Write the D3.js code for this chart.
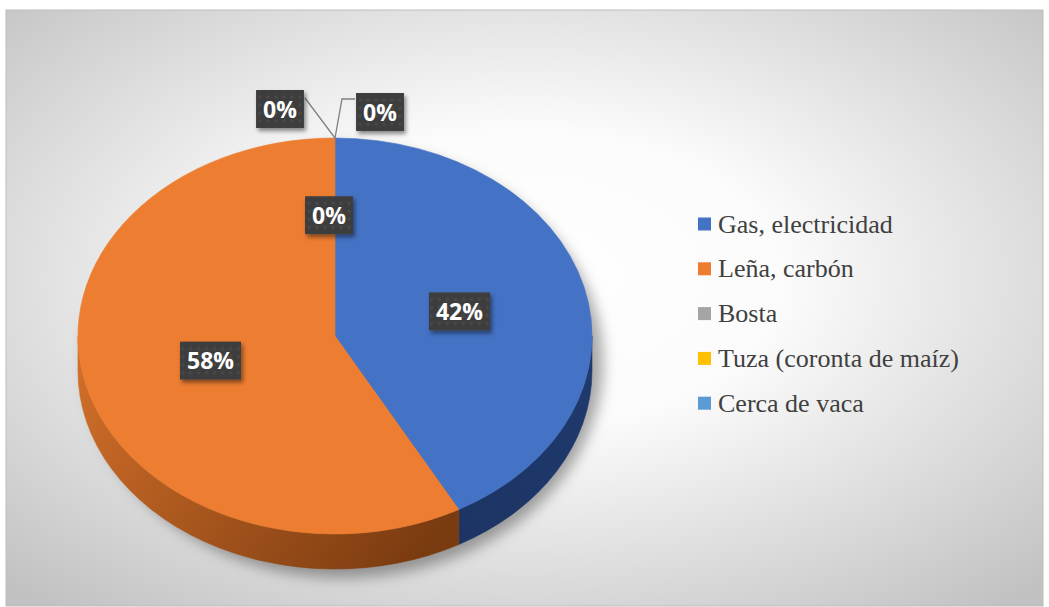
<!DOCTYPE html>
<html>
<head>
<meta charset="utf-8">
<script src="https://cdn.jsdelivr.net/npm/d3@7/dist/d3.min.js"></script>
<style>
  html, body { margin: 0; padding: 0; background: #fff; }
  svg { display: block; }
</style>
</head>
<body>
<svg id="chart" width="1049" height="607"></svg>
<script>
// Household cooking fuel shares (%)
const categories = ["Gas, electricidad", "Leña, carbón", "Bosta", "Tuza (coronta de maíz)", "Cerca de vaca"];
const values = [42, 58, 0, 0, 0];
const colors = ["#4472C4", "#ED7D31", "#A5A5A5", "#FFC000", "#5B9BD5"];
const sideColors = [["#1f3a6e", "#1b325f"], ["#d4702a", "#7a3b10"], ["#7c7c7c", "#555"], ["#c09000", "#806000"], ["#44749f", "#2d4d6a"]];

const svg = d3.select("#chart");
const frame = { x: 6, y: 10, w: 1037, h: 596 };

// pie geometry (tilted ellipse)
const cx = 335, cy = 336, rx = 257, ry = 198, depth = 35;

const defs = svg.append("defs");

const bg = defs.append("radialGradient").attr("id", "bg")
  .attr("cx", "0.5").attr("cy", "0.45").attr("r", "0.72");
bg.append("stop").attr("offset", "0").attr("stop-color", "#ffffff");
bg.append("stop").attr("offset", "0.35").attr("stop-color", "#fbfbfb");
bg.append("stop").attr("offset", "1").attr("stop-color", "#c1c1c1");

const shadowBlur = defs.append("filter").attr("id", "pieShadow")
  .attr("x", "-20%").attr("y", "-20%").attr("width", "140%").attr("height", "140%");
shadowBlur.append("feGaussianBlur").attr("stdDeviation", 7);

const boxShadow = defs.append("filter").attr("id", "boxShadow")
  .attr("x", "-30%").attr("y", "-30%").attr("width", "160%").attr("height", "170%");
boxShadow.append("feDropShadow").attr("dx", 2).attr("dy", 3)
  .attr("stdDeviation", 2.2).attr("flood-color", "#000").attr("flood-opacity", 0.45);

const dots = defs.append("pattern").attr("id", "dots")
  .attr("patternUnits", "userSpaceOnUse").attr("width", 8).attr("height", 8);
dots.append("rect").attr("width", 8).attr("height", 8).attr("fill", "#3e3e3e");
dots.append("circle").attr("cx", 4).attr("cy", 4).attr("r", 1.6).attr("fill", "#4a4a4a");

sideColors.forEach((c, i) => {
  const g = defs.append("linearGradient").attr("id", "side" + i)
    .attr("gradientUnits", "userSpaceOnUse")
    .attr("x1", cx - rx).attr("y1", cy).attr("x2", cx + rx * 0.3).attr("y2", cy + ry + depth);
  g.append("stop").attr("offset", "0").attr("stop-color", c[0]);
  g.append("stop").attr("offset", "1").attr("stop-color", c[1]);
});
// the blue wall faces the other way, so its gradient runs right to left
defs.select("#side0").attr("x1", cx + rx).attr("x2", cx);

// chart area
svg.append("rect").attr("x", frame.x).attr("y", frame.y)
  .attr("width", frame.w).attr("height", frame.h)
  .attr("fill", "url(#bg)").attr("stroke", "#bdbdbd").attr("stroke-width", 1);

const pie = d3.pie().sort(null).value(d => d)(values);

// point on the ellipse; angle measured clockwise from 12 o'clock
const pt = (a, f = 1, dy = 0) => [cx + rx * f * Math.sin(a), cy - ry * f * Math.cos(a) + dy];

// soft shadow under the pie
svg.append("ellipse")
  .attr("cx", cx + 9).attr("cy", cy + depth / 2 + 9)
  .attr("rx", rx + 2).attr("ry", ry + depth / 2)
  .attr("fill", "rgba(0,0,0,0.34)").attr("filter", "url(#pieShadow)");

// outer walls (front half only)
const walls = svg.append("g");
pie.forEach((d, i) => {
  const s = Math.max(d.startAngle, Math.PI / 2);
  const e = Math.min(d.endAngle, 3 * Math.PI / 2);
  if (e <= s) return;
  const p0 = pt(s), p1 = pt(e), q1 = pt(e, 1, depth), q0 = pt(s, 1, depth);
  const path = `M${p0}A${rx},${ry} 0 0 1 ${p1}L${q1}A${rx},${ry} 0 0 0 ${q0}Z`;
  walls.append("path").attr("d", path).attr("fill", `url(#side${i})`)
    .attr("stroke", `url(#side${i})`).attr("stroke-width", 0.6);
});

// top faces
const tops = svg.append("g");
pie.forEach((d, i) => {
  if (d.endAngle - d.startAngle <= 0) return;
  const p0 = pt(d.startAngle), p1 = pt(d.endAngle);
  const large = d.endAngle - d.startAngle > Math.PI ? 1 : 0;
  tops.append("path")
    .attr("d", `M${cx},${cy}L${p0}A${rx},${ry} 0 ${large} 1 ${p1}Z`)
    .attr("fill", colors[i]).attr("stroke", colors[i]).attr("stroke-width", 0.6);
});

// data labels
const labelFont = "'Open Sans', 'Liberation Sans', sans-serif";
const labels = svg.append("g");
const topPt = pt(2 * Math.PI);
// zero-share labels that sit outside the pie, with their leader elbows
const outside = {
  3: { c: [topPt[0] - 55, topPt[1] - 29], leader: [[topPt[0] - 30, topPt[1] - 40]] },
  4: { c: [topPt[0] + 45, topPt[1] - 26], leader: [[topPt[0] + 20, topPt[1] - 39], [topPt[0] + 7, topPt[1] - 39]] }
};

pie.forEach((d, i) => {
  let c;
  const mid = (d.startAngle + d.endAngle) / 2;
  if (outside[i]) {
    c = outside[i].c;
    const pts = outside[i].leader.concat([topPt]);
    labels.append("path").attr("d", d3.line()(pts))
      .attr("fill", "none").attr("stroke", "#7f7f7f").attr("stroke-width", 1.3);
  } else if (d.value === 0) {
    c = pt(mid, 0.61);
    c = [c[0] - 6, c[1]];
  } else {
    c = pt(mid, 0.5);
  }
  const txt = d.value + "%";
  const g = labels.append("g").attr("transform", `translate(${c[0]},${c[1]})`);
  const t = g.append("text").text(txt)
    .attr("text-anchor", "middle").attr("dy", "0.37em")
    .attr("font-family", labelFont).attr("font-weight", "bold")
    .attr("font-size", 23).attr("fill", "#ffffff");
  const bw = t.node().getComputedTextLength() + 14, bh = 38;
  g.insert("rect", "text").attr("x", -bw / 2).attr("y", -bh / 2)
    .attr("width", bw).attr("height", bh)
    .attr("fill", "url(#dots)").attr("filter", "url(#boxShadow)");
});

// legend
const legend = svg.append("g").attr("transform", "translate(698,224)");
const step = 44.8;
categories.forEach((name, i) => {
  const row = legend.append("g").attr("transform", `translate(0,${i * step})`);
  row.append("rect").attr("x", 0).attr("y", -6.5).attr("width", 13).attr("height", 13)
    .attr("fill", colors[i]);
  row.append("text").attr("x", 20).attr("y", 8.5).text(name)
    .attr("font-family", "'Liberation Serif', 'Times New Roman', serif")
    .attr("font-size", 26).attr("fill", "#404040");
});
</script>
</body>
</html>
